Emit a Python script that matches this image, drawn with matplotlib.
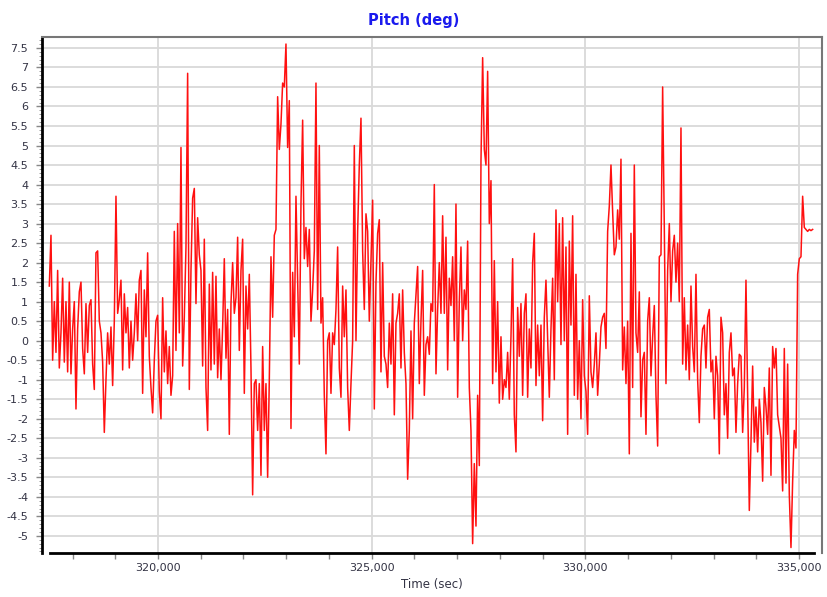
import numpy as np
import matplotlib
matplotlib.use("Agg")
import matplotlib.pyplot as plt
from matplotlib.ticker import MultipleLocator, FuncFormatter

# sampling of the pitch log (seconds)
t_start = 317457
t_step = 39.0

# pitch values (deg) left to right
pitch_a = [1.4, 2.7, -0.5, 1.0, -0.3, 1.8, -0.7, 0.2, 1.6, -0.55, 1.0, -0.8, 1.5, -0.85,
           0.3, 1.0, -1.75, 0.3, 1.25, 1.5, -0.2, -0.85, 0.95, -0.3, 0.9, 1.05, -0.6, -1.25,
           2.25, 2.3, 0.5, 0.2, -0.55, -2.35, -1.0, 0.2, -0.6, 0.35, -1.15, 0.5, 3.7, 0.7,
           1.05, 1.55, -0.75, 1.2, 0.2, 0.85, -0.7, 0.5, -0.5, 0.2, 1.2, 0.0, 1.55, 1.8,
           -1.35, 1.3, 0.1, 2.25, -0.4, -1.2, -1.85, -0.5, 0.5, 0.65, -1.3, -2.0, 1.1, -0.8,
           0.25, -1.1, -0.15, -1.4]
pitch_b = [-0.9, 2.8, -0.25, 3.0, 0.2, 4.95, -0.65, 0.6, 2.4, 6.85, -1.25, 1.8, 3.65, 3.9,
           0.95, 3.15, 2.2, 1.8, -0.65, 2.6, -1.2, -2.3, 1.45, -0.75, 1.75, -0.6, 1.65, -0.95,
           0.3, -1.0, 0.35, 2.1, -0.45, 0.8, -2.4, 0.95, 2.0, 0.7, 1.1, 2.65, -0.25, 1.8,
           2.6, -1.35, 1.4, 0.3, 1.7, -0.7, -3.95, -1.1, -1.0, -2.3, -1.1, -3.45, -0.15, -2.3,
           -1.1, -3.5, -1.0, 2.15, 0.6, 2.7, 2.85, 6.25, 4.9, 5.55, 6.6, 6.5, 7.6, 4.95,
           6.15, -2.25, 1.75, 0.1, 3.7, 1.5, -0.6, 3.5]
pitch_c = [5.65, 2.1, 2.9, 1.9, 2.85, 0.5, 1.3, 2.3, 6.6, 0.8, 5.0, 0.45, 1.1, -1.4,
           -2.9, 0.0, 0.2, -1.35, 0.2, -0.1, 0.8, 2.4, -0.7, -1.45, 1.4, 0.1, 1.3, -1.2,
           -2.3, -1.1, 0.0, 5.0, 0.0, 2.8, 4.5, 5.7, 2.3, 0.8, 3.25, 2.8, 0.5, 2.0,
           3.6, -1.75, 1.5, 2.75, 3.1, -0.8, 2.0, -0.4, -0.6, -1.2, 0.45, -0.6, 1.2, -1.9,
           0.45, 0.7, 1.2, -0.7, 1.3, -0.3, -1.1, -3.55, -2.3, 0.25, -2.0, 0.45, 1.2, 1.9,
           -1.1, 0.5, 1.8, -1.4, -0.1, 0.1, -0.35, 0.95]
pitch_d = [0.75, 4.0, -0.85, 0.8, 2.0, 0.7, 3.2, 0.7, 2.65, -0.75, 1.6, 0.9, 2.15, 0.0,
           3.5, -1.45, 1.0, 2.4, 0.0, 1.3, 0.8, 2.55, -1.2, -2.3, -5.2, -3.15, -4.75, -1.4,
           -3.2, 4.6, 7.25, 4.9, 4.5, 6.9, 3.0, 4.1, -1.1, 2.05, -0.8, 1.0, -1.6, 0.1,
           -1.5, -1.0, -1.2, -0.3, -1.5, 0.1, 2.1, -1.9, -2.85, 0.85, -0.4, 0.95, -1.4, 0.7,
           1.2, -1.45, 0.3, -0.7, 2.0, 2.75, -1.15, 0.4, -0.9, 0.4, -2.05, 0.6, 1.55, 0.0,
           -1.45, 0.3, 1.6, -1.0, 3.35, 1.0, 3.0, -0.1]
pitch_e = [3.15, 0.0, 2.4, -2.4, 2.55, 0.4, 3.2, -1.4, 1.7, -1.5, 0.0, -2.0, 1.05, -0.9,
           -1.3, -2.4, 1.15, -0.8, -1.2, -0.6, 0.2, -1.4, -0.6, 0.35, 0.6, 0.7, -0.2, 2.8,
           3.45, 4.5, 3.3, 2.2, 2.4, 3.35, 2.6, 4.65, -0.75, 0.35, -1.1, 0.5, -2.9, 2.75,
           -1.2, 4.5, 0.2, -0.3, 1.25, -1.95, -0.5, -0.3, -2.4, 0.5, 1.1, -0.9, 0.1, 0.9,
           -1.4, -2.7, 2.15, 2.2, 6.5, 2.9, -1.1, 1.8, 3.0, 1.0, 2.3, 2.7, 1.5, 2.5,
           1.0, 5.45, -0.6, 1.1, -0.75, 0.4, -1.0, 1.4]
pitch_f = [-0.15, -0.8, 1.7, -1.0, -2.1, -0.4, 0.3, 0.4, -0.7, 0.6, 0.8, -0.8, -0.5, -2.0,
           -0.4, -0.9, -2.9, 0.6, 0.2, -1.9, -1.1, -2.5, -0.3, 0.2, -0.9, -0.7, -2.35, -1.1,
           -0.35, -0.4, -2.35, -1.2, 1.55, -1.4, -4.35, -2.6, -0.65, -2.6, -1.7, -2.85, -1.5, -2.1,
           -3.6, -1.2, -1.7, -2.4, -0.7, -3.45, -0.15, -0.7, -0.2, -1.9, -2.2, -2.5, -3.85, -0.2,
           -3.65, -0.6, -3.95, -5.3, -3.6, -2.3, -2.75, 1.7, 2.1, 2.15, 3.7, 2.9, 2.85, 2.8,
           2.85, 2.82, 2.85]

pitch = np.array(pitch_a + pitch_b + pitch_c + pitch_d + pitch_e + pitch_f)
time_sec = t_start + t_step * np.arange(len(pitch))

plt.rcParams['font.family'] = ['DejaVu Sans']

fig = plt.figure(figsize=(8.28, 5.97), dpi=100)
ax = fig.add_axes([42 / 828, 1 - 553 / 597, 780 / 828, 516 / 597])

ax.plot(time_sec, pitch, color='#ff1010', lw=1.1)

ax.set_xlim(317286, 335538)
ax.set_ylim(-5.44, 7.78)

ax.xaxis.set_major_locator(MultipleLocator(5000))
ax.xaxis.set_minor_locator(MultipleLocator(1000))
ax.yaxis.set_major_locator(MultipleLocator(0.5))
ax.yaxis.set_minor_locator(MultipleLocator(0.1))
ax.xaxis.set_major_formatter(FuncFormatter(lambda v, p: f"{v:,.0f}"))
ax.yaxis.set_major_formatter(FuncFormatter(lambda v, p: f"{v:g}"))

ax.grid(True, which='major', color='#d9d9d9', lw=1.3)
ax.set_axisbelow(True)

lab_col = '#333344'
ax.tick_params(axis='both', which='major', labelsize=8, labelcolor=lab_col,
               color='#888888', length=4, width=1)
ax.tick_params(axis='y', which='minor', length=2, color='#888888', width=0.6)
ax.tick_params(axis='x', which='minor', length=4, color='#888888', width=1)
ax.tick_params(axis='y', pad=6)

for side in ['top', 'right']:
    ax.spines[side].set_color('#777777')
    ax.spines[side].set_linewidth(1.5)
ax.spines['left'].set_color('black')
ax.spines['left'].set_linewidth(2)
ax.spines['bottom'].set_color('black')
ax.spines['bottom'].set_linewidth(2)
ax.spines['bottom'].set_bounds(317470, 335350)

ax.set_xlabel('Time (sec)', fontsize=8.5, color=lab_col, labelpad=3)
fig.text(0.5, 1 - 21 / 597, 'Pitch (deg)', ha='center', va='center',
         fontsize=10.5, fontweight='bold', color='#1a1aee')

fig.savefig('out.png', dpi=100)
